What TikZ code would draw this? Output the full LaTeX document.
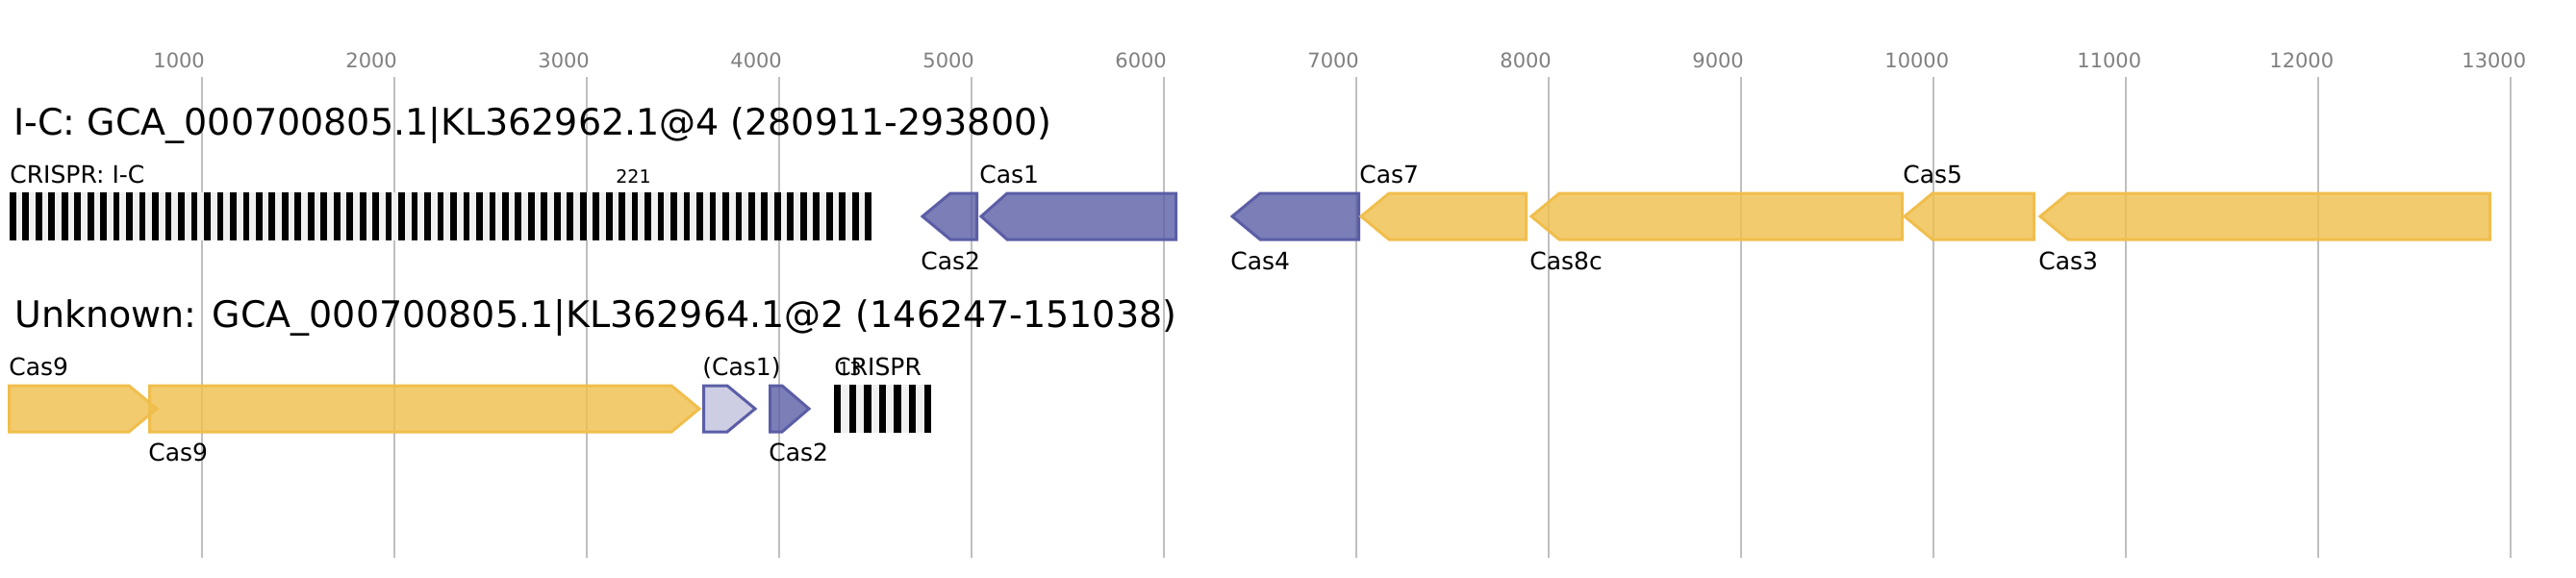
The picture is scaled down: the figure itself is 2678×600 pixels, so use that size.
\documentclass[tikz,border=0pt]{standalone}
\usepackage{fontspec}
\setmainfont{DejaVu Sans}
\usepackage{tikz}

\definecolor{azulcas}{HTML}{5B5EA6}
\definecolor{amarillocas}{HTML}{F0BE4C}
\definecolor{gris}{HTML}{BFBFBF}
\definecolor{grismarca}{HTML}{808080}
\definecolor{espaciador}{HTML}{F0F0F0}

\begin{document}
\begin{tikzpicture}[x=0.5pt, y=-0.5pt,
                  texto/.style={inner sep=0pt, anchor=base west},
                  titulo/.style={texto, font=\fontsize{19}{23}\selectfont},
                  etiqueta/.style={texto, font=\fontsize{12.5}{15}\selectfont},
                  numero/.style={texto, font=\fontsize{9.5}{11}\selectfont},
                  marca/.style={texto, text=grismarca, font=\fontsize{10.5}{13}\selectfont},
                  rejilla/.style={draw=gris, line width=1pt},
                  gen/.style={line width=1.5pt, line join=miter},
                  gen azul/.style={gen, draw=azulcas, fill=azulcas, fill opacity=0.8},
                  gen claro/.style={gen, draw=azulcas, fill=azulcas, fill opacity=0.3},
                  gen amarillo/.style={gen, draw=amarillocas, fill=amarillocas, fill opacity=0.8},
                  repeticiones/.style={line width=25pt}]

                  \useasboundingbox[fill=white] (0,0) rectangle (2678,600);

                  % Dibujamos la escala y las lineas de la rejilla.
                  \foreach \k in {1,...,13} {
                      \draw[rejilla] ({10+200*\k},80) -- ({10+200*\k},580);
                      \node[marca] (marca\k) at ({10+200*\k-51},70) {\k000};
                  }

                  % Los arreglos CRISPR.
                  \fill[espaciador] (10,200) rectangle (906,250);
                  \draw[repeticiones, dash pattern=on 3.35pt off 3.387pt] (10,225) -- (906,225);
                  \fill[espaciador] (867,400) rectangle (968,450);
                  \draw[repeticiones, dash pattern=on 3.65pt off 4.16pt] (867,425) -- (968,425);

                  % Genes del primer locus (hacia la izquierda).
                  \draw[gen azul] (959,225) -- (988,201) -- (1015.5,201) -- (1015.5,249)
                      -- (988,249) -- cycle;
                  \draw[gen azul] (1020,225) -- (1047,201) -- (1222.5,201) -- (1222.5,249)
                      -- (1047,249) -- cycle;
                  \draw[gen azul] (1281,225) -- (1310,201) -- (1412.5,201) -- (1412.5,249)
                      -- (1310,249) -- cycle;
                  \draw[gen amarillo] (1415,225) -- (1444,201) -- (1586.5,201) -- (1586.5,249)
                      -- (1444,249) -- cycle;
                  \draw[gen amarillo] (1592,225) -- (1621,201) -- (1977.5,201) -- (1977.5,249)
                      -- (1621,249) -- cycle;
                  \draw[gen amarillo] (1980,225) -- (2009,201) -- (2114.5,201) -- (2114.5,249)
                      -- (2009,249) -- cycle;
                  \draw[gen amarillo] (2121,225) -- (2150,201) -- (2588.5,201) -- (2588.5,249)
                      -- (2150,249) -- cycle;

                  % Genes del segundo locus (hacia la derecha).
                  \draw[gen amarillo] (9.5,401) -- (134,401) -- (163,425) -- (134,449)
                      -- (9.5,449) -- cycle;
                  \draw[gen amarillo] (155.5,401) -- (698,401) -- (727,425) -- (698,449)
                      -- (155.5,449) -- cycle;
                  \draw[gen claro] (731.5,401) -- (756,401) -- (785,425) -- (756,449)
                      -- (731.5,449) -- cycle;
                  \draw[gen azul] (800.5,401) -- (813,401) -- (841,425) -- (813,449)
                      -- (800.5,449) -- cycle;

                  % Titulos de cada locus.
                  \node[titulo] (titulo1) at (14,140)
                  {I-C: GCA\_000700805.1|KL362962.1@4 (280911-293800)};
                  \node[titulo] (titulo2) at (15,340)
                  {Unknown: GCA\_000700805.1|KL362964.1@2 (146247-151038)};

                  % Etiquetas del primer locus.
                  \node[etiqueta] (lcrispr1) at (10,190) {CRISPR: I-C};
                  \node[numero] (ncrispr1) at (640,190) {221};
                  \node[etiqueta] (lcas2a) at (957,280) {Cas2};
                  \node[etiqueta] (lcas1a) at (1018,190) {Cas1};
                  \node[etiqueta] (lcas4) at (1279,280) {Cas4};
                  \node[etiqueta] (lcas7) at (1413,190) {Cas7};
                  \node[etiqueta] (lcas8c) at (1590,280) {Cas8c};
                  \node[etiqueta] (lcas5) at (1978,190) {Cas5};
                  \node[etiqueta] (lcas3) at (2119,280) {Cas3};

                  % Etiquetas del segundo locus.
                  \node[etiqueta] (lcas9a) at (9,390) {Cas9};
                  \node[etiqueta] (lcas9b) at (154,479) {Cas9};
                  \node[etiqueta] (lcas1b) at (730,390) {(Cas1)};
                  \node[etiqueta] (lcas2b) at (799,479) {Cas2};
                  \node[etiqueta] (lcrispr2) at (867,390) {CRISPR};
                  \node[numero] (ncrispr2) at (871,390) {13};

                \end{tikzpicture}
\end{document}
